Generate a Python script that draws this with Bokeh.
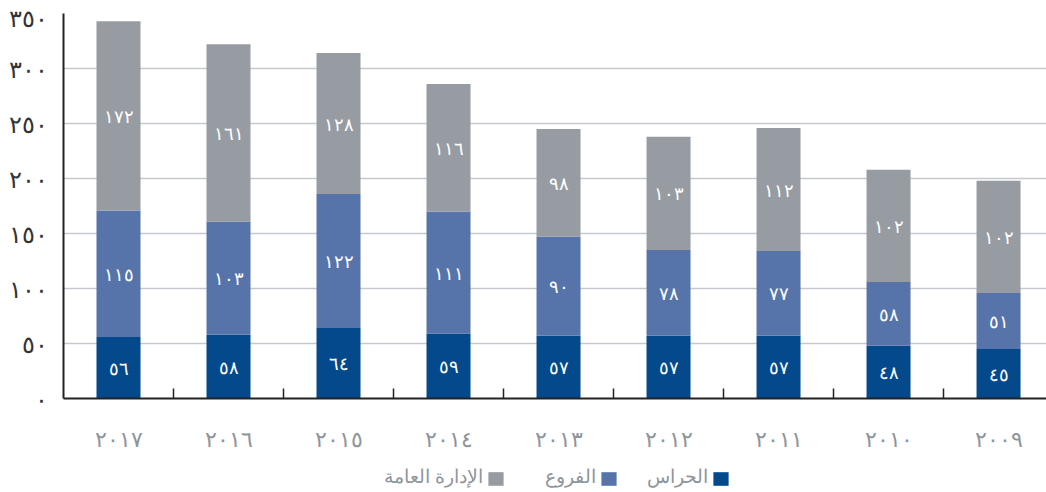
from bokeh.plotting import figure
from bokeh.layouts import column
from bokeh.models import (ColumnDataSource, Range1d, FixedTicker, Legend, LegendItem, Label)
from bokeh.core.properties import value
from bokeh.embed import file_html
from bokeh.resources import INLINE

# ---- data ----
years = ["٢٠١٧", "٢٠١٦", "٢٠١٥", "٢٠١٤", "٢٠١٣", "٢٠١٢", "٢٠١١", "٢٠١٠", "٢٠٠٩"]
guards = [56, 58, 64, 59, 57, 57, 57, 48, 45]          # الحراس
branches = [115, 103, 122, 111, 90, 78, 77, 58, 51]    # الفروع
admin = [172, 161, 128, 116, 98, 103, 112, 102, 102]   # الإدارة العامة
series_names = ["الحراس", "الفروع", "الإدارة العامة"]
y_ticks = [0, 50, 100, 150, 200, 250, 300, 350]
y_tick_labels = ["٠", "٥٠", "١٠٠", "١٥٠", "٢٠٠", "٢٥٠", "٣٠٠", "٣٥٠"]

colors = ["#03498C", "#5674AA", "#969CA2"]
FONT = "Noto Sans"
W = 1046
FRAME_LEFT = 64          # frame left edge shared by both stacked figures
LEGEND_H = 37

AR_DIGITS = "٠١٢٣٤٥٦٧٨٩"
def to_ar(n):
    return "".join(AR_DIGITS[int(c)] for c in str(n))

xs = list(range(len(years)))
source = ColumnDataSource(dict(x=xs, guards=guards, branches=branches, admin=admin))
stack_cols = ["guards", "branches", "admin"]

p = figure(width=W, height=455, output_backend="svg", toolbar_location=None,
           x_range=Range1d(-0.5, 8.436), y_range=Range1d(0, 350),
           min_border_left=63, min_border_right=0, min_border_top=13, min_border_bottom=50)
p.outline_line_color = None
p.background_fill_color = "white"
p.border_fill_color = "white"

p.vbar_stack(stack_cols, x="x", width=0.4, color=colors, line_color=None, source=source)

# value labels
lx, ly, lt = [], [], []
for i in xs:
    base = 0
    for vals in (guards, branches, admin):
        v = vals[i]
        lx.append(i)
        ly.append(base + v / 2)
        lt.append(to_ar(v))
        base += v
p.text(x=lx, y=ly, text=lt, text_color="white", text_align="center",
       text_baseline="middle", text_font=value(FONT), text_font_size="18px")

# axes
p.xaxis.ticker = FixedTicker(ticks=xs, minor_ticks=[i + 0.5 for i in xs[:-1]])
p.xaxis.major_label_overrides = {i: years[i] for i in xs}
p.xaxis.major_tick_line_color = None
p.xaxis.minor_tick_in = 10
p.xaxis.minor_tick_out = 0
p.xaxis.minor_tick_line_color = "#222222"
p.xaxis.minor_tick_line_width = 1.5
p.xaxis.axis_line_color = "#222222"
p.xaxis.axis_line_width = 2
p.xaxis.major_label_text_color = "#8E959B"
p.xaxis.major_label_text_font = FONT
p.xaxis.major_label_text_font_size = "22px"
p.xaxis.major_label_standoff = 18

p.yaxis.ticker = FixedTicker(ticks=y_ticks)
p.yaxis.major_label_overrides = {t: l for t, l in zip(y_ticks, y_tick_labels)}
p.yaxis.major_tick_line_color = None
p.yaxis.minor_tick_line_color = None
p.yaxis.axis_line_color = "#222222"
p.yaxis.axis_line_width = 2
p.yaxis.major_label_text_color = "#333333"
p.yaxis.major_label_text_font = FONT
p.yaxis.major_label_text_font_size = "24px"
p.yaxis.major_label_standoff = 10

p.xgrid.grid_line_color = None
p.ygrid.grid_line_color = "#C5C9CD"
p.ygrid.grid_line_width = 1.5

# ---- legend strip (separate small figure below, right-to-left: text then swatch) ----
lg = figure(width=W, height=LEGEND_H, output_backend="svg", toolbar_location=None,
            x_axis_type=None, y_axis_type=None,
            x_range=Range1d(FRAME_LEFT, W), y_range=Range1d(0, LEGEND_H),
            min_border_left=0, min_border_right=0, min_border_top=0, min_border_bottom=0)
lg.grid.visible = False
lg.outline_line_color = None
lg.border_fill_color = "white"
lg.background_fill_color = "white"
proxy_src = ColumnDataSource(dict(x=[-1000], guards=[0], branches=[0], admin=[0]))
proxies = lg.vbar_stack(stack_cols, x="x", width=0.4, color=colors, line_color=None,
                        source=proxy_src)

swatch_left = [712, 600, 487]   # guards, branches, admin (page pixels)
for k in range(3):
    leg = Legend(items=[LegendItem(label=" ", renderers=[proxies[k]])],
                 orientation="horizontal", location=(swatch_left[k] - FRAME_LEFT, 5),
                 padding=0, margin=0, glyph_width=19, glyph_height=17,
                 label_standoff=0, border_line_color=None, background_fill_alpha=0,
                 label_text_font_size="1px")
    lg.add_layout(leg, "center")
    lg.add_layout(Label(x=swatch_left[k] - 4, y=17, text=series_names[k],
                        text_align="right", text_baseline="middle",
                        text_font=FONT, text_font_size="19px", text_color="#8E959B"))

layout = column(p, lg, spacing=0)
open("out.html", "w").write(file_html(layout, INLINE))
